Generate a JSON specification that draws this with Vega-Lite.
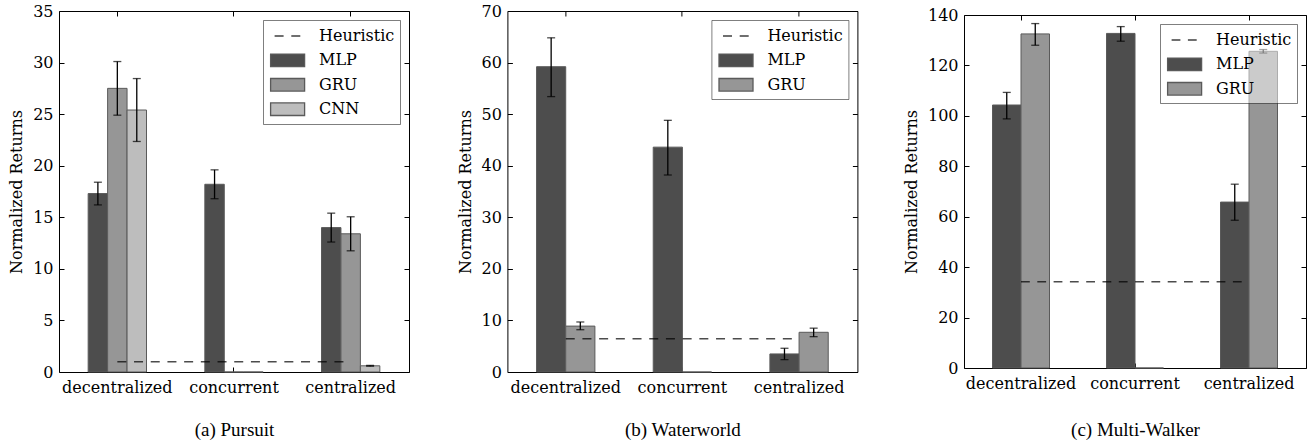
{
  "$schema": "https://vega.github.io/schema/vega-lite/v6.json",
  "padding": {"left": 8, "top": 2, "right": 0, "bottom": 0},
  "bounds": "flush",
  "spacing": 98.4,
  "background": "white",
  "config": {
    "view": {"stroke": "black", "strokeWidth": 1},
    "axis": {
      "domain": false,
      "grid": false,
      "ticks": true,
      "tickSize": -5,
      "tickColor": "black",
      "tickWidth": 1,
      "labelFont": "DejaVu Serif, Liberation Serif, serif",
      "labelFontSize": 16,
      "labelColor": "black",
      "titleColor": "black",
      "titleFontWeight": "normal"
    },
    "legend": {
      "orient": "top-right",
      "offset": 9,
      "title": null,
      "symbolSize": 400,
      "symbolStrokeWidth": 1.3,
      "symbolOpacity": 1,
      "labelFont": "DejaVu Serif, Liberation Serif, serif",
      "labelFontSize": 16,
      "labelColor": "black",
      "labelOffset": 29,
      "labelLimit": 0,
      "rowPadding": 4.4,
      "padding": 5,
      "strokeColor": "rgba(0,0,0,0.5)",
      "fillColor": "rgba(255,255,255,0.5)",
      "cornerRadius": 0,
      "zindex": 1
    }
  },
  "resolve": {"scale": {"color": "independent", "stroke": "independent", "strokeDash": "independent", "y": "independent", "x": "independent", "xOffset": "independent"}, "legend": {"color": "independent", "stroke": "independent", "strokeDash": "independent"}},
  "hconcat": [
    {
      "width": 350,
      "height": 361,
      "data": {"values": [
        {"cat": "decentralized", "model": "MLP", "v": 17.3, "lo": 16.2, "hi": 18.4},
        {"cat": "decentralized", "model": "GRU", "v": 27.5, "lo": 24.9, "hi": 30.1},
        {"cat": "decentralized", "model": "CNN", "v": 25.4, "lo": 22.35, "hi": 28.45},
        {"cat": "concurrent", "model": "MLP", "v": 18.2, "lo": 16.8, "hi": 19.6},
        {"cat": "concurrent", "model": "GRU", "v": 0},
        {"cat": "concurrent", "model": "CNN", "v": 0},
        {"cat": "centralized", "model": "MLP", "v": 14.0, "lo": 12.6, "hi": 15.4},
        {"cat": "centralized", "model": "GRU", "v": 13.4, "lo": 11.75, "hi": 15.05},
        {"cat": "centralized", "model": "CNN", "v": 0.6, "lo": 0.56, "hi": 0.64},
        {"cat": "decentralized", "model": "Heuristic", "v": 1.0},
        {"cat": "concurrent", "model": "Heuristic", "v": 1.0},
        {"cat": "centralized", "model": "Heuristic", "v": 1.0}
      ]},
      "layer": [
        {
          "transform": [{"filter": "datum.model !== 'Heuristic'"}],
          "mark": {"type": "bar", "stroke": "#5a5a5a", "strokeWidth": 1},
          "encoding": {
            "x": {"field": "cat", "type": "nominal", "sort": ["decentralized", "concurrent", "centralized"],
                  "scale": {"paddingInner": 0.5, "paddingOuter": 0.25},
                  "axis": {"orient": "bottom", "bandPosition": 0.5, "labelAngle": 0, "labelPadding": 12,
                           "title": "(a) Pursuit", "titleFont": "Liberation Serif, serif", "titleFontSize": 19, "titlePadding": 25}},
            "xOffset": {"field": "model", "type": "nominal", "scale": {"domain": ["MLP", "GRU", "CNN"], "paddingInner": 0, "paddingOuter": 0}},
            "y": {"field": "v", "type": "quantitative", "scale": {"domain": [0, 35], "nice": false},
                  "axis": {"orient": "left", "values": [0, 5, 10, 15, 20, 25, 30, 35], "labelPadding": 11,
                           "title": "Normalized Returns", "titleFont": "DejaVu Serif, Liberation Serif, serif", "titleFontSize": 16, "titlePadding": 8}},
            "color": {"field": "model", "type": "nominal",
                      "scale": {"domain": ["Heuristic", "MLP", "GRU", "CNN"], "range": ["transparent", "#4d4d4d", "#969696", "#bdbdbd"]},
                      "legend": {"symbolType": "M-0.84,0H2.56V-0.63H-0.84V0.63H2.56V0Z"}}
          }
        },
        {
          "transform": [{"filter": "false"}],
          "mark": {"type": "bar"},
          "encoding": {
            "stroke": {"field": "model", "type": "nominal",
                       "scale": {"domain": ["Heuristic", "MLP", "GRU", "CNN"], "range": ["#404040", "#5a5a5a", "#5a5a5a", "#5a5a5a"]},
                       "legend": {"symbolType": "M-0.84,0H2.56V-0.63H-0.84V0.63H2.56V0Z"}},
            "strokeDash": {"field": "model", "type": "nominal",
                           "scale": {"domain": ["Heuristic", "MLP", "GRU", "CNN"], "range": [[0, 4, 9, 7.7, 9, 1000], [0, 34, 93.2, 34], [0, 34, 93.2, 34], [0, 34, 93.2, 34]]},
                           "legend": {"symbolType": "M-0.84,0H2.56V-0.63H-0.84V0.63H2.56V0Z"}}
          }
        },
        {
          "transform": [{"filter": "datum.model === 'Heuristic'"}],
          "mark": {"type": "line", "color": "black", "opacity": 0.7, "strokeWidth": 1.4, "strokeDash": [9, 7.7]},
          "encoding": {
            "x": {"field": "cat", "type": "nominal", "sort": ["decentralized", "concurrent", "centralized"], "axis": null},
            "y": {"field": "v", "type": "quantitative", "axis": null}
          }
        },
        {
          "transform": [{"filter": "isValid(datum.hi)"}],
          "mark": {"type": "rule", "color": "black", "strokeWidth": 1.3},
          "encoding": {
            "x": {"field": "cat", "type": "nominal", "sort": ["decentralized", "concurrent", "centralized"],
                  "axis": {"orient": "top", "bandPosition": 0.5, "labels": false, "title": null}},
            "xOffset": {"field": "model", "type": "nominal"},
            "y": {"field": "lo", "type": "quantitative",
                  "axis": {"orient": "right", "values": [0, 5, 10, 15, 20, 25, 30, 35], "labels": false, "title": null}},
            "y2": {"field": "hi"}
          }
        },
        {
          "transform": [{"filter": "isValid(datum.hi)"}],
          "mark": {"type": "tick", "orient": "horizontal", "color": "black", "size": 8, "thickness": 1.3},
          "encoding": {
            "x": {"field": "cat", "type": "nominal", "sort": ["decentralized", "concurrent", "centralized"], "axis": null},
            "xOffset": {"field": "model", "type": "nominal"},
            "y": {"field": "hi", "type": "quantitative", "axis": null}
          }
        },
        {
          "transform": [{"filter": "isValid(datum.lo)"}],
          "mark": {"type": "tick", "orient": "horizontal", "color": "black", "size": 8, "thickness": 1.3},
          "encoding": {
            "x": {"field": "cat", "type": "nominal", "sort": ["decentralized", "concurrent", "centralized"], "axis": null},
            "xOffset": {"field": "model", "type": "nominal"},
            "y": {"field": "lo", "type": "quantitative", "axis": null}
          }
        }
      ],
      "resolve": {"axis": {"x": "independent", "y": "independent"}}
    },
    {
      "bounds": "flush",
      "spacing": 106.6,
      "center": true,
      "resolve": {"scale": {"color": "independent", "stroke": "independent", "strokeDash": "independent", "y": "independent", "x": "independent", "xOffset": "independent"}, "legend": {"color": "independent", "stroke": "independent", "strokeDash": "independent"}},
      "hconcat": [
        {
          "width": 350,
          "height": 361,
          "data": {"values": [
            {"cat": "decentralized", "model": "MLP", "v": 59.2, "lo": 53.4, "hi": 64.8},
            {"cat": "decentralized", "model": "GRU", "v": 8.9, "lo": 8.2, "hi": 9.7},
            {"cat": "concurrent", "model": "MLP", "v": 43.6, "lo": 38.2, "hi": 48.8},
            {"cat": "concurrent", "model": "GRU", "v": 0},
            {"cat": "centralized", "model": "MLP", "v": 3.5, "lo": 2.4, "hi": 4.6},
            {"cat": "centralized", "model": "GRU", "v": 7.7, "lo": 6.85, "hi": 8.5},
            {"cat": "decentralized", "model": "Heuristic", "v": 6.46},
            {"cat": "concurrent", "model": "Heuristic", "v": 6.46},
            {"cat": "centralized", "model": "Heuristic", "v": 6.46}
          ]},
          "layer": [
            {
              "transform": [{"filter": "datum.model !== 'Heuristic'"}],
              "mark": {"type": "bar", "stroke": "#5a5a5a", "strokeWidth": 1},
              "encoding": {
                "x": {"field": "cat", "type": "nominal", "sort": ["decentralized", "concurrent", "centralized"],
                      "scale": {"paddingInner": 0.5, "paddingOuter": 0.25},
                      "axis": {"orient": "bottom", "bandPosition": 0.5, "labelAngle": 0, "labelPadding": 12,
                               "title": "(b) Waterworld", "titleFont": "Liberation Serif, serif", "titleFontSize": 19, "titlePadding": 25}},
                "xOffset": {"field": "model", "type": "nominal", "scale": {"domain": ["MLP", "GRU"], "paddingInner": 0, "paddingOuter": 0}},
                "y": {"field": "v", "type": "quantitative", "scale": {"domain": [0, 70], "nice": false},
                      "axis": {"orient": "left", "values": [0, 10, 20, 30, 40, 50, 60, 70], "labelPadding": 11,
                               "title": "Normalized Returns", "titleFont": "DejaVu Serif, Liberation Serif, serif", "titleFontSize": 16, "titlePadding": 8}},
                "color": {"field": "model", "type": "nominal",
                          "scale": {"domain": ["Heuristic", "MLP", "GRU"], "range": ["transparent", "#4d4d4d", "#969696"]},
                          "legend": {"symbolType": "M-0.84,0H2.56V-0.63H-0.84V0.63H2.56V0Z"}}
              }
            },
            {
              "transform": [{"filter": "false"}],
              "mark": {"type": "bar"},
              "encoding": {
                "stroke": {"field": "model", "type": "nominal",
                           "scale": {"domain": ["Heuristic", "MLP", "GRU"], "range": ["#404040", "#5a5a5a", "#5a5a5a"]},
                           "legend": {"symbolType": "M-0.84,0H2.56V-0.63H-0.84V0.63H2.56V0Z"}},
                "strokeDash": {"field": "model", "type": "nominal",
                               "scale": {"domain": ["Heuristic", "MLP", "GRU"], "range": [[0, 4, 9, 7.7, 9, 1000], [0, 34, 93.2, 34], [0, 34, 93.2, 34]]},
                               "legend": {"symbolType": "M-0.84,0H2.56V-0.63H-0.84V0.63H2.56V0Z"}}
              }
            },
            {
              "transform": [{"filter": "datum.model === 'Heuristic'"}],
              "mark": {"type": "line", "color": "black", "opacity": 0.7, "strokeWidth": 1.4, "strokeDash": [9, 7.7]},
              "encoding": {
                "x": {"field": "cat", "type": "nominal", "sort": ["decentralized", "concurrent", "centralized"], "axis": null},
                "y": {"field": "v", "type": "quantitative", "axis": null}
              }
            },
            {
              "transform": [{"filter": "isValid(datum.hi)"}],
              "mark": {"type": "rule", "color": "black", "strokeWidth": 1.3},
              "encoding": {
                "x": {"field": "cat", "type": "nominal", "sort": ["decentralized", "concurrent", "centralized"],
                      "axis": {"orient": "top", "bandPosition": 0.5, "labels": false, "title": null}},
                "xOffset": {"field": "model", "type": "nominal"},
                "y": {"field": "lo", "type": "quantitative",
                      "axis": {"orient": "right", "values": [0, 10, 20, 30, 40, 50, 60, 70], "labels": false, "title": null}},
                "y2": {"field": "hi"}
              }
            },
            {
              "transform": [{"filter": "isValid(datum.hi)"}],
              "mark": {"type": "tick", "orient": "horizontal", "color": "black", "size": 8, "thickness": 1.3},
              "encoding": {
                "x": {"field": "cat", "type": "nominal", "sort": ["decentralized", "concurrent", "centralized"], "axis": null},
                "xOffset": {"field": "model", "type": "nominal"},
                "y": {"field": "hi", "type": "quantitative", "axis": null}
              }
            },
            {
              "transform": [{"filter": "isValid(datum.lo)"}],
              "mark": {"type": "tick", "orient": "horizontal", "color": "black", "size": 8, "thickness": 1.3},
              "encoding": {
                "x": {"field": "cat", "type": "nominal", "sort": ["decentralized", "concurrent", "centralized"], "axis": null},
                "xOffset": {"field": "model", "type": "nominal"},
                "y": {"field": "lo", "type": "quantitative", "axis": null}
              }
            }
          ],
          "resolve": {"axis": {"x": "independent", "y": "independent"}}
        },
        {
          "width": 342,
          "height": 353,
          "data": {"values": [
            {"cat": "decentralized", "model": "MLP", "v": 104.3, "lo": 98.8, "hi": 109.3},
            {"cat": "decentralized", "model": "GRU", "v": 132.5, "lo": 128.0, "hi": 136.6},
            {"cat": "concurrent", "model": "MLP", "v": 132.7, "lo": 129.6, "hi": 135.4},
            {"cat": "concurrent", "model": "GRU", "v": 0},
            {"cat": "centralized", "model": "MLP", "v": 65.8, "lo": 58.6, "hi": 72.9},
            {"cat": "centralized", "model": "GRU", "v": 125.6, "lo": 124.9, "hi": 126.3},
            {"cat": "decentralized", "model": "Heuristic", "v": 34.2},
            {"cat": "concurrent", "model": "Heuristic", "v": 34.2},
            {"cat": "centralized", "model": "Heuristic", "v": 34.2}
          ]},
          "layer": [
            {
              "transform": [{"filter": "datum.model !== 'Heuristic'"}],
              "mark": {"type": "bar", "stroke": "#5a5a5a", "strokeWidth": 1},
              "encoding": {
                "x": {"field": "cat", "type": "nominal", "sort": ["decentralized", "concurrent", "centralized"],
                      "scale": {"paddingInner": 0.5, "paddingOuter": 0.25},
                      "axis": {"orient": "bottom", "bandPosition": 0.5, "labelAngle": 0, "labelPadding": 12,
                               "title": "(c) Multi-Walker", "titleFont": "Liberation Serif, serif", "titleFontSize": 19, "titlePadding": 29}},
                "xOffset": {"field": "model", "type": "nominal", "scale": {"domain": ["MLP", "GRU"], "paddingInner": 0, "paddingOuter": 0}},
                "y": {"field": "v", "type": "quantitative", "scale": {"domain": [0, 140], "nice": false},
                      "axis": {"orient": "left", "values": [0, 20, 40, 60, 80, 100, 120, 140], "labelPadding": 11,
                               "title": "Normalized Returns", "titleFont": "DejaVu Serif, Liberation Serif, serif", "titleFontSize": 16, "titlePadding": 8}},
                "color": {"field": "model", "type": "nominal",
                          "scale": {"domain": ["Heuristic", "MLP", "GRU"], "range": ["transparent", "#4d4d4d", "#969696"]},
                          "legend": {"symbolType": "M-0.84,0H2.56V-0.63H-0.84V0.63H2.56V0Z"}}
              }
            },
            {
              "transform": [{"filter": "false"}],
              "mark": {"type": "bar"},
              "encoding": {
                "stroke": {"field": "model", "type": "nominal",
                           "scale": {"domain": ["Heuristic", "MLP", "GRU"], "range": ["#404040", "#5a5a5a", "#5a5a5a"]},
                           "legend": {"symbolType": "M-0.84,0H2.56V-0.63H-0.84V0.63H2.56V0Z"}},
                "strokeDash": {"field": "model", "type": "nominal",
                               "scale": {"domain": ["Heuristic", "MLP", "GRU"], "range": [[0, 4, 8.8, 7.5, 8.8, 1000], [0, 34, 93.2, 34], [0, 34, 93.2, 34]]},
                               "legend": {"symbolType": "M-0.84,0H2.56V-0.63H-0.84V0.63H2.56V0Z"}}
              }
            },
            {
              "transform": [{"filter": "datum.model === 'Heuristic'"}],
              "mark": {"type": "line", "color": "black", "opacity": 0.7, "strokeWidth": 1.4, "strokeDash": [8.8, 7.5]},
              "encoding": {
                "x": {"field": "cat", "type": "nominal", "sort": ["decentralized", "concurrent", "centralized"], "axis": null},
                "y": {"field": "v", "type": "quantitative", "axis": null}
              }
            },
            {
              "transform": [{"filter": "isValid(datum.hi)"}],
              "mark": {"type": "rule", "color": "black", "strokeWidth": 1.3},
              "encoding": {
                "x": {"field": "cat", "type": "nominal", "sort": ["decentralized", "concurrent", "centralized"],
                      "axis": {"orient": "top", "bandPosition": 0.5, "labels": false, "title": null}},
                "xOffset": {"field": "model", "type": "nominal"},
                "y": {"field": "lo", "type": "quantitative",
                      "axis": {"orient": "right", "values": [0, 20, 40, 60, 80, 100, 120, 140], "labels": false, "title": null}},
                "y2": {"field": "hi"}
              }
            },
            {
              "transform": [{"filter": "isValid(datum.hi)"}],
              "mark": {"type": "tick", "orient": "horizontal", "color": "black", "size": 8, "thickness": 1.3},
              "encoding": {
                "x": {"field": "cat", "type": "nominal", "sort": ["decentralized", "concurrent", "centralized"], "axis": null},
                "xOffset": {"field": "model", "type": "nominal"},
                "y": {"field": "hi", "type": "quantitative", "axis": null}
              }
            },
            {
              "transform": [{"filter": "isValid(datum.lo)"}],
              "mark": {"type": "tick", "orient": "horizontal", "color": "black", "size": 8, "thickness": 1.3},
              "encoding": {
                "x": {"field": "cat", "type": "nominal", "sort": ["decentralized", "concurrent", "centralized"], "axis": null},
                "xOffset": {"field": "model", "type": "nominal"},
                "y": {"field": "lo", "type": "quantitative", "axis": null}
              }
            }
          ],
          "resolve": {"axis": {"x": "independent", "y": "independent"}}
        }
      ]
    }
  ]
}
